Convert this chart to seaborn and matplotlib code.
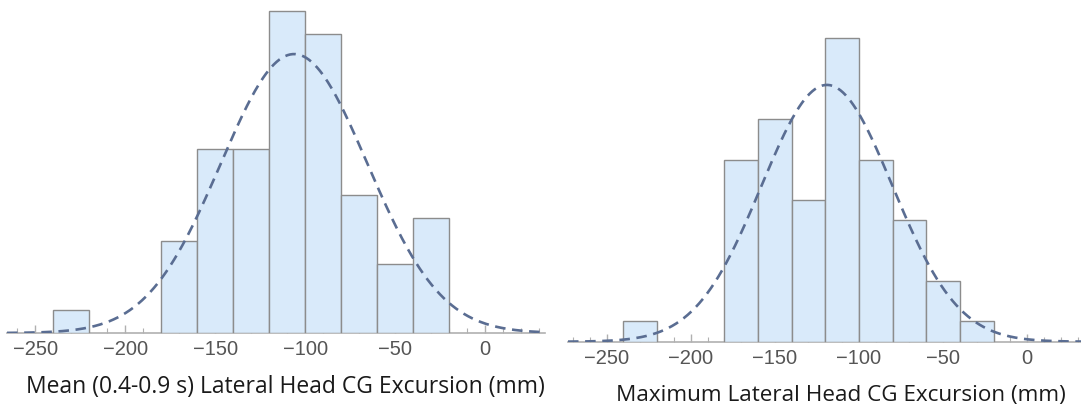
import numpy as np
import pandas as pd
import matplotlib
matplotlib.use("Agg")
import matplotlib.pyplot as plt
from matplotlib.ticker import MultipleLocator
import seaborn as sns

# Binned lateral head CG excursion (mm), 20 mm bins
bin_edges = [-240, -220, -200, -180, -160, -140, -120, -100, -80, -60, -40, -20]
mean_counts = [1, 0, 0, 4, 8, 8, 14, 13, 6, 3, 5]
max_counts = [1, 0, 0, 9, 11, 7, 15, 9, 6, 3, 1]

mean_label = "Mean (0.4-0.9 s) Lateral Head CG Excursion (mm)"
max_label = "Maximum Lateral Head CG Excursion (mm)"
tick_values = [-250, -200, -150, -100, -50, 0]

sns.set_theme(style="white")
plt.rcParams["font.family"] = ["Liberation Sans", "DejaVu Sans"]

BAR_FACE = "#d9eafa"
BAR_EDGE = "#8c8c8c"
CURVE = "#5a6d92"
AXIS_GREY = "#b0b0b0"
TICK_TEXT = "#555555"

fig = plt.figure(figsize=(10.81, 4.08), dpi=100)
ax_l = fig.add_axes([0.0065, 0.1838, 0.4977, 0.8162])
ax_r = fig.add_axes([0.5254, 0.1625, 0.4746, 0.8375])


def draw_panel(ax, counts, xlim, ytop):
    edges = np.array(bin_edges, dtype=float)
    centers = (edges[:-1] + edges[1:]) / 2
    df = pd.DataFrame({"x": centers, "w": np.array(counts, dtype=float)})
    sns.histplot(data=df, x="x", weights="w", bins=list(bin_edges), ax=ax,
                 color=BAR_FACE, edgecolor=BAR_EDGE, linewidth=1.0,
                 alpha=1.0, zorder=2)
    # hide empty bins so no zero-height outline is drawn
    for p in ax.patches:
        if p.get_height() == 0:
            p.set_visible(False)

    # fitted normal density scaled to counts
    samples = np.repeat(centers, counts)
    mu, sd = samples.mean(), samples.std(ddof=1)
    bw = edges[1] - edges[0]
    xs = np.linspace(xlim[0], xlim[1], 400)
    ys = len(samples) * bw * np.exp(-0.5 * ((xs - mu) / sd) ** 2) / (sd * np.sqrt(2 * np.pi))
    sns.lineplot(x=xs, y=ys, ax=ax, color=CURVE, linewidth=1.9,
                 linestyle=(0, (4, 2.5)), zorder=3)

    ax.set_xlim(*xlim)
    ax.set_ylim(0, ytop)
    ax.set_yticks([])
    ax.set_ylabel("")
    for s in ["left", "right", "top"]:
        ax.spines[s].set_visible(False)
    ax.spines["bottom"].set_color(AXIS_GREY)
    ax.spines["bottom"].set_linewidth(1.2)
    ax.spines["bottom"].set_zorder(1)
    ax.set_xticks(tick_values)
    ax.set_xticklabels([f"\u2212{abs(v)}" if v < 0 else str(v) for v in tick_values])
    ax.xaxis.set_minor_locator(MultipleLocator(10))
    ax.tick_params(axis="x", which="major", direction="in", length=6, width=1,
                   color=AXIS_GREY, labelsize=14.5, labelcolor=TICK_TEXT, pad=5, bottom=True)
    ax.tick_params(axis="x", which="minor", direction="in", length=3.5, width=0.8,
                   color=AXIS_GREY, bottom=True)
    ax.set_xlabel("")
    ax.patch.set_alpha(0)
    return ax


draw_panel(ax_l, mean_counts, (-265.6, 33.3), 14.48)
draw_panel(ax_r, max_counts, (-273.0, 32.0), 16.9)

fig.text(0.2645, 1 - 387 / 408, mean_label, ha="center", va="center",
         fontsize=16.5, family=["Open Sans", "DejaVu Sans"], color="#1a1a1a")
fig.text(0.7775, 1 - 395 / 408, max_label, ha="center", va="center",
         fontsize=16.2, family=["Open Sans", "DejaVu Sans"], color="#1a1a1a")

fig.savefig("out.png", dpi=100, facecolor="white")
